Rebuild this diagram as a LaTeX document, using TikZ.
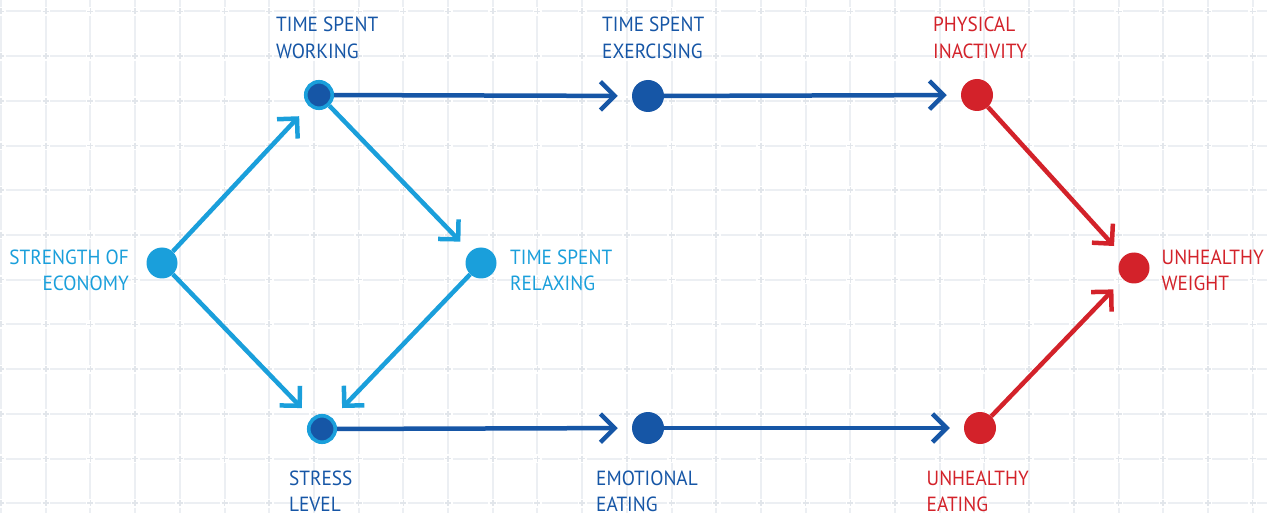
\documentclass[tikz,border=0pt]{standalone}
\usepackage{fontspec}
\setmainfont[FakeStretch=0.94]{PT Sans}
\usetikzlibrary{arrows.meta}
\definecolor{lblue}{HTML}{1A9FDB}
\definecolor{dblue}{HTML}{1656A6}
\definecolor{cred}{HTML}{D3222A}
\definecolor{gridc}{HTML}{ECEFF3}
\definecolor{gridp}{HTML}{E2E6EB}
\newcommand{\lbl}[1]{\begin{tabular}[t]{@{}l@{}}#1\end{tabular}}
\newcommand{\lbr}[1]{\begin{tabular}[t]{@{}r@{}}#1\end{tabular}}
\tikzset{
  lbdot/.style={circle, fill=lblue, minimum size=31pt, inner sep=0pt},
  dbdot/.style={circle, fill=dblue, minimum size=32pt, inner sep=0pt},
  ringdot/.style={circle, fill=dblue, draw=lblue, line width=3.6pt, minimum size=26.5pt, inner sep=0pt},
  rddot/.style={circle, fill=cred, minimum size=32pt, inner sep=0pt},
  lab/.style={inner sep=0pt, font=\fontsize{20.5}{26.4}\selectfont},
  conn/.style={line width=4.5pt, -{Straight Barb[angle=90:20pt]}, shorten >=14pt},
}
\begin{document}
\begin{tikzpicture}[x=1pt,y=-1pt]
\useasboundingbox (0,0) rectangle (1267,513);
\fill[white] (0,0) rectangle (1267,513);
% grid
\begin{scope}[line width=2pt, gridc]
\foreach \i in {0,...,28}{
  \foreach \j in {-1,...,11}{
    \draw ({1+44.7*\i},{11.5+44.7*\j+4.5}) -- ({1+44.7*\i},{11.5+44.7*(\j+1)-4.5});
  }
}
\foreach \j in {0,...,11}{
  \foreach \i in {-1,...,28}{
    \draw ({1+44.7*\i+4.5},{11.5+44.7*\j}) -- ({1+44.7*(\i+1)-4.5},{11.5+44.7*\j});
  }
}
\end{scope}
\begin{scope}[line width=1.6pt, gridp]
\foreach \i in {0,...,28}{
  \foreach \j in {0,...,11}{
    \draw ({1+44.7*\i-3},{11.5+44.7*\j}) -- ({1+44.7*\i+3},{11.5+44.7*\j});
    \draw ({1+44.7*\i},{11.5+44.7*\j-3}) -- ({1+44.7*\i},{11.5+44.7*\j+3});
  }
}
\end{scope}
% nodes
\node[lbdot] (econ) at (162,263) {};
\node[ringdot] (work) at (319,95) {};
\node[ringdot] (stress) at (322,429) {};
\node[lbdot] (relax) at (481,263) {};
\node[dbdot] (exer) at (648,96) {};
\node[dbdot] (emot) at (648,428) {};
\node[rddot] (inact) at (977,95) {};
\node[rddot] (eat) at (980,428) {};
\node[rddot, minimum size=31pt] (weight) at (1134,268) {};
% labels
\node[lab, lblue, anchor=base east] (econL) at (129,264.3) {\lbr{STRENGTH OF\\ECONOMY}};
\node[lab, dblue, anchor=base west] (workL) at (276,32) {\lbl{TIME SPENT\\WORKING}};
\node[lab, lblue, anchor=base west] (relaxL) at (510,264.3) {\lbl{TIME SPENT\\RELAXING}};
\node[lab, dblue, anchor=base west] (exerL) at (602,32) {\lbl{TIME SPENT\\EXERCISING}};
\node[lab, cred, anchor=base west] (inactL) at (933,32) {\lbl{PHYSICAL\\INACTIVITY}};
\node[lab, cred, anchor=base west] (weightL) at (1161.5,264.3) {\lbl{UNHEALTHY\\WEIGHT}};
\node[lab, dblue, anchor=base west] (stressL) at (289,485.5) {\lbl{STRESS\\LEVEL}};
\node[lab, dblue, anchor=base west] (emotL) at (596,485.5) {\lbl{EMOTIONAL\\EATING}};
\node[lab, cred, anchor=base west] (eatL) at (926.5,485.5) {\lbl{UNHEALTHY\\EATING}};
% connectors
\draw[conn, lblue] (econ) -- (work);
\draw[conn, lblue] (econ) -- (stress);
\draw[conn, lblue] (work) -- (relax);
\draw[conn, lblue] (relax) -- (stress);
\draw[conn, dblue] (work) -- (exer);
\draw[conn, dblue] (exer) -- (inact);
\draw[conn, dblue] (stress) -- (emot);
\draw[conn, dblue] (emot) -- (eat);
\draw[conn, cred] (inact) -- (weight);
\draw[conn, cred] (eat) -- (weight);
\end{tikzpicture}
\end{document}
